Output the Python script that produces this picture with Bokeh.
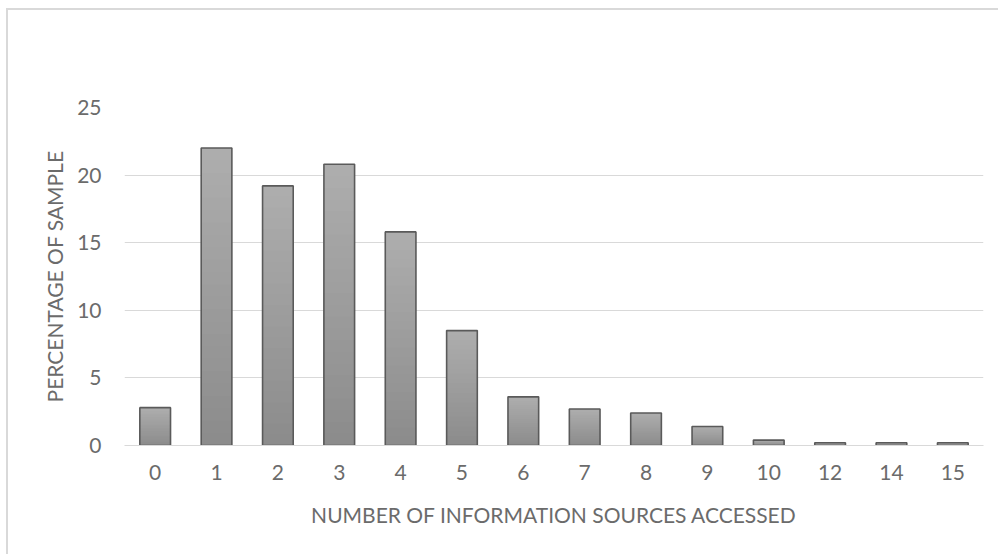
from bokeh.plotting import figure
from bokeh.embed import file_html
from bokeh.resources import INLINE
from bokeh.models import ColumnDataSource
from bokeh.core.properties import value

categories = ["0", "1", "2", "3", "4", "5", "6", "7", "8", "9", "10", "12", "14", "15"]
percentages = [2.8, 22.0, 19.2, 20.8, 15.8, 8.5, 3.6, 2.7, 2.4, 1.4, 0.4, 0.2, 0.2, 0.2]
y_ticks = [0, 5, 10, 15, 20, 25]

FONT = "Lato"
TEXT = "#6b6b6b"
FS = "21px"

p = figure(x_range=categories, y_range=(0, 25), width=992, height=546,
           output_backend="svg", toolbar_location=None,
           min_border_left=116, min_border_right=17, min_border_top=97, min_border_bottom=111)
p.styles = {"margin-left": "6px", "margin-top": "8px",
            "border-top": "2px solid #d9d9d9", "border-left": "2px solid #d9d9d9"}
p.outline_line_color = None

# gradient simulation: layered bars, light at top to dark at bottom
N = 24
top_c = (0xad, 0xad, 0xad)
bot_c = (0x8c, 0x8c, 0x8c)
for k in range(N):
    f = 1 - k / N
    t = k / (N - 1)
    c = tuple(int(round(top_c[i] + (bot_c[i] - top_c[i]) * t)) for i in range(3))
    src = ColumnDataSource(dict(x=categories, top=[v * f for v in percentages]))
    p.vbar(x="x", top="top", width=0.5, source=src,
           fill_color="#%02x%02x%02x" % c, line_color=None)

src = ColumnDataSource(dict(x=categories, top=percentages))
p.vbar(x="x", top="top", width=0.5, source=src, fill_color=None,
       line_color="#5a5a5a", line_width=1.6)

p.ygrid.ticker = y_ticks
p.ygrid.grid_line_color = "#d9d9d9"
p.ygrid.grid_line_width = 1.2
p.ygrid.level = "underlay"
p.xgrid.grid_line_color = None

p.yaxis.ticker = y_ticks
p.yaxis.axis_line_color = None
p.yaxis.major_tick_line_color = None
p.yaxis.minor_tick_line_color = None
p.yaxis.major_tick_out = 0
p.yaxis.minor_tick_out = 0
p.yaxis.major_label_standoff = 23
p.yaxis.axis_label = "PERCENTAGE OF SAMPLE"
p.yaxis.axis_label_standoff = 7

p.xaxis.axis_line_color = "#d9d9d9"
p.xaxis.axis_line_width = 1.2
p.xaxis.major_tick_line_color = None
p.xaxis.minor_tick_line_color = None
p.xaxis.major_tick_out = 0
p.xaxis.minor_tick_out = 0
p.xaxis.major_label_standoff = 19
p.xaxis.axis_label = "NUMBER OF INFORMATION SOURCES ACCESSED"
p.xaxis.axis_label_standoff = 19

for ax in (p.xaxis, p.yaxis):
    ax.major_label_text_font = FONT
    ax.major_label_text_font_size = FS
    ax.major_label_text_color = TEXT
    ax.axis_label_text_font = FONT
    ax.axis_label_text_font_size = FS
    ax.axis_label_text_font_style = "normal"
    ax.axis_label_text_color = TEXT

open("out.html", "w").write(file_html(p, INLINE))
